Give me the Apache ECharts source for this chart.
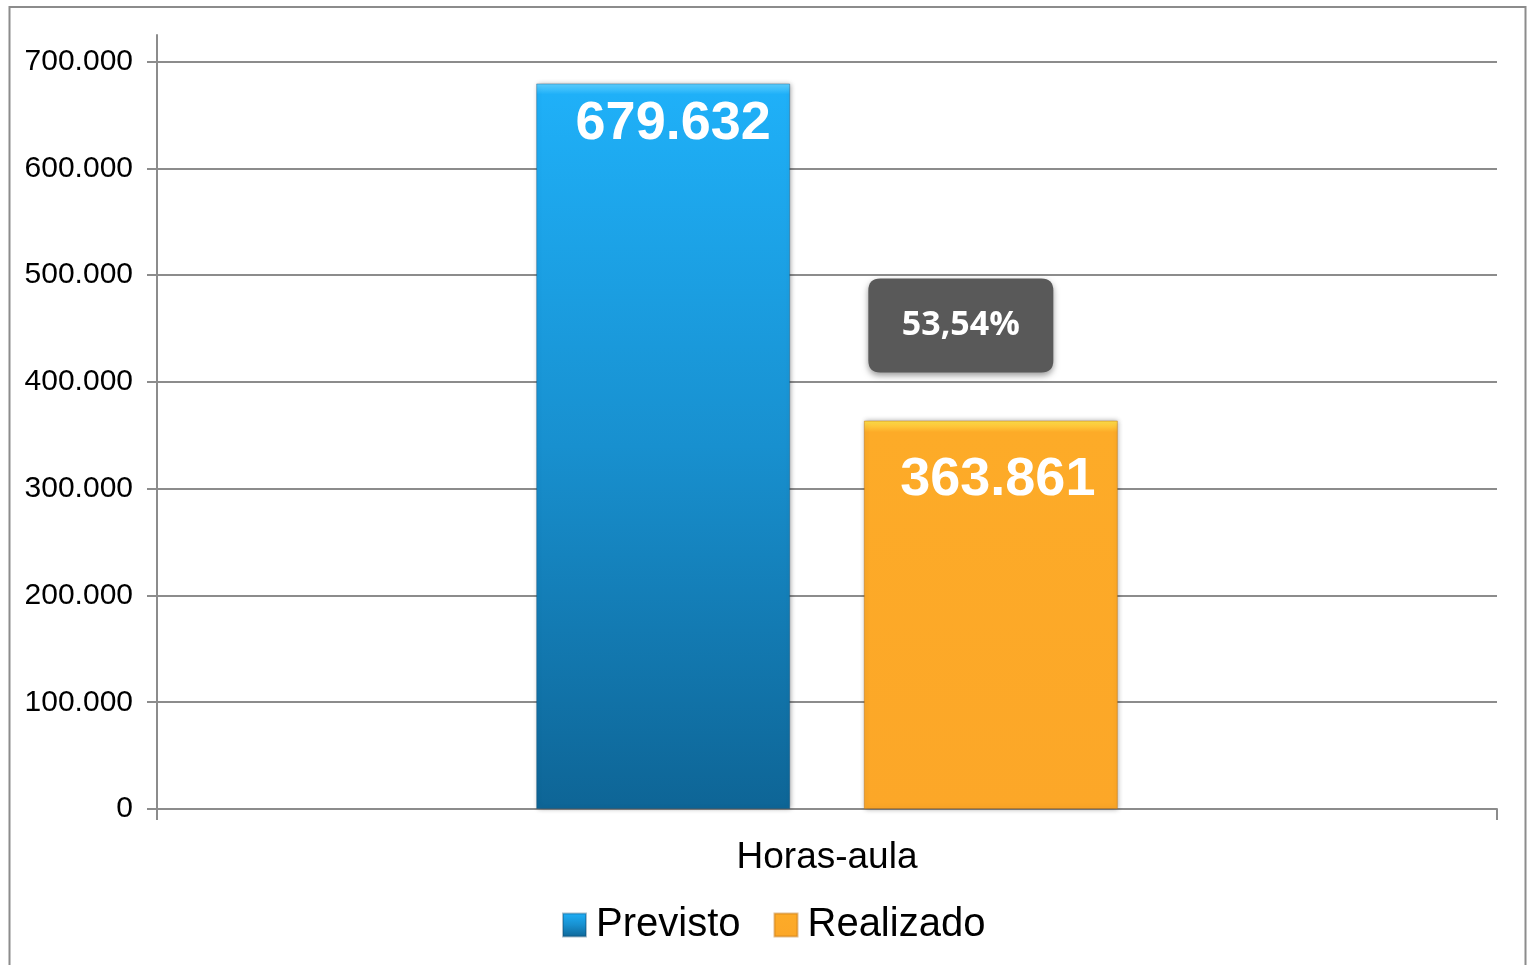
<!DOCTYPE html>
<html>
<head>
<meta charset="utf-8">
<style>
	html, body { margin: 0; padding: 0; background: #fff; }
	#HorasAula { width: 1527px; height: 965px; }
</style>
<script src="https://cdn.jsdelivr.net/npm/echarts@6/dist/echarts.min.js"></script>
</head>
<body>
<div id="HorasAula"></div>
<script>
	const categories = ['Horas-aula']
	const seriesNames = ['Previsto', 'Realizado']
	const previsto = [679632]
	const realizado = [363861]
	const yTicks = [0, 100000, 200000, 300000, 400000, 500000, 600000, 700000]

	const gridColor = '#8c8c8c'
	const fontFamily = 'Liberation Sans, Arial, sans-serif'

	// 1.234.567 style
	const fmt = (v) => String(v).replace(/\B(?=(\d{3})+(?!\d))/g, '.')
	const pct = ((realizado[0] / previsto[0]) * 100).toFixed(2).replace('.', ',') + '%'

	const chart = echarts.init(document.getElementById('HorasAula'))
	const option = {
		backgroundColor: '#fff',
		animation: false,
		graphic: [
			{
				type: 'rect',
				shape: { x: 9.5, y: 7, width: 1516, height: 1000 },
				style: { fill: 'none', stroke: gridColor, lineWidth: 2 },
				silent: true
			}
		],
		grid: {
			left: 157,
			right: 30,
			top: 35,
			bottom: 156
		},
		legend: {
			left: 562,
			top: 905,
			padding: 0,
			icon: 'rect',
			itemWidth: 23,
			itemHeight: 23,
			itemGap: 33,
			textStyle: { fontSize: 40, color: '#000', fontFamily: fontFamily, padding: [0, 0, 0, 5] },
			data: seriesNames
		},
		xAxis: {
			type: 'category',
			data: categories,
			axisLine: { lineStyle: { color: gridColor, width: 2 } },
			axisTick: { show: true, length: 11, lineStyle: { color: gridColor, width: 2 } },
			axisLabel: { margin: 30, fontSize: 37, color: '#000', fontFamily: fontFamily }
		},
		yAxis: {
			type: 'value',
			min: 0,
			max: 725000,
			axisLine: { show: true, lineStyle: { color: gridColor, width: 2 } },
			axisTick: { show: true, length: 10, customValues: yTicks, lineStyle: { color: gridColor, width: 2 } },
			axisLabel: {
				customValues: yTicks,
				margin: 24,
				fontSize: 30,
				color: '#000',
				fontFamily: fontFamily,
				formatter: (v) => fmt(v)
			},
			splitLine: { show: true, lineStyle: { color: gridColor, width: 2 } }
		},
		series: [
			{
				name: seriesNames[0],
				type: 'bar',
				barWidth: 254,
				barGap: '29%',
				data: previsto,
				itemStyle: {
					color: new echarts.graphic.LinearGradient(0, 0, 0, 1, [
						{ offset: 0, color: '#5fd0ff' },
						{ offset: 0.015, color: '#1fb0f8' },
						{ offset: 0.5, color: '#1890cf' },
						{ offset: 1, color: '#0e6596' }
					]),
					borderColor: 'rgba(8,70,110,0.35)',
					borderWidth: 1,
					shadowColor: 'rgba(0,0,0,0.35)',
					shadowBlur: 5,
					shadowOffsetX: 1
				},
				label: {
					show: true,
					position: 'insideTop',
					distance: 14,
					offset: [10, 0],
					color: '#fff',
					fontSize: 54,
					fontWeight: 'bold',
					fontFamily: fontFamily,
					formatter: (p) => fmt(p.value)
				}
			},
			{
				name: seriesNames[1],
				type: 'bar',
				barWidth: 254,
				data: realizado,
				itemStyle: {
					color: new echarts.graphic.LinearGradient(0, 0, 0, 1, [
						{ offset: 0, color: '#ffe14a' },
						{ offset: 0.03, color: '#fdab28' },
						{ offset: 1, color: '#fca728' }
					]),
					borderColor: 'rgba(190,110,10,0.45)',
					borderWidth: 1,
					shadowColor: 'rgba(0,0,0,0.35)',
					shadowBlur: 5,
					shadowOffsetX: 1
				},
				label: {
					show: true,
					position: 'insideTop',
					distance: 33,
					offset: [7, 0],
					color: '#fff',
					fontSize: 54,
					fontWeight: 'bold',
					fontFamily: fontFamily,
					formatter: (p) => fmt(p.value)
				},
				markPoint: {
					data: [{ type: 'max' }],
					symbol: 'path://M12,0 H173 Q185,0 185,12 V82 Q185,94 173,94 H12 Q0,94 0,82 V12 Q0,0 12,0 Z',
					symbolSize: [185, 94],
					symbolKeepAspect: false,
					symbolOffset: [-30, -95],
					itemStyle: {
						color: '#595959',
						shadowColor: 'rgba(0,0,0,0.4)',
						shadowBlur: 6,
						shadowOffsetY: 3
					},
					label: {
						show: true,
						position: 'inside',
						color: '#fff',
						fontSize: 34,
						fontWeight: 'bold',
						fontFamily: 'Open Sans, sans-serif',
						formatter: () => pct
					}
				}
			}
		]
	}
	chart.setOption(option)
	window.onresize = () => {
		chart.resize()
	}
</script>
</body>
</html>
